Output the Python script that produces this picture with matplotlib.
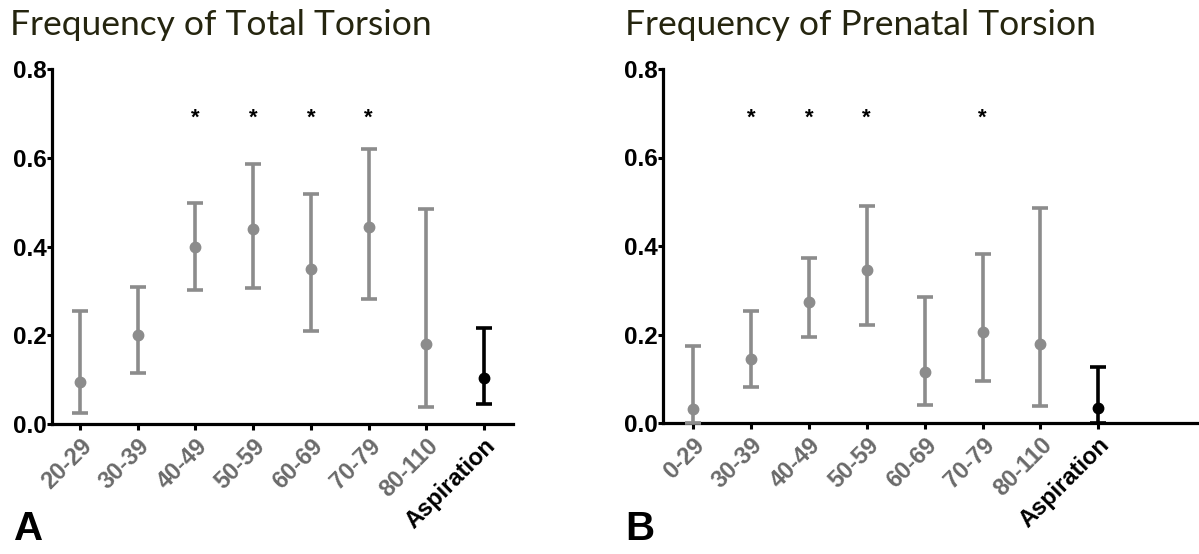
import numpy as np
import matplotlib
matplotlib.use("Agg")
import matplotlib.pyplot as plt

plt.rcParams["font.family"] = ["Liberation Sans", "DejaVu Sans"]

# ---------------- data ----------------
cats_a = ["20-29", "30-39", "40-49", "50-59", "60-69", "70-79", "80-110", "Aspiration"]
mean_a = [0.094, 0.201, 0.398, 0.439, 0.349, 0.443, 0.180, 0.104]
low_a = [0.024, 0.116, 0.303, 0.306, 0.210, 0.281, 0.038, 0.045]
high_a = [0.255, 0.309, 0.497, 0.585, 0.518, 0.620, 0.485, 0.217]
star_a = [False, False, True, True, True, True, False, False]

cats_b = ["0-29", "30-39", "40-49", "50-59", "60-69", "70-79", "80-110", "Aspiration"]
mean_b = [0.032, 0.145, 0.273, 0.345, 0.115, 0.205, 0.179, 0.034]
low_b = [0.000, 0.081, 0.194, 0.221, 0.040, 0.094, 0.039, 0.000]
high_b = [0.175, 0.252, 0.373, 0.491, 0.284, 0.382, 0.485, 0.126]
star_b = [False, True, True, True, False, True, False, False]

star_y = 0.70
GREY = "#8c8c8c"
TXT_GREY = "#6a6a6a"
W, H = 1199, 554

fig = plt.figure(figsize=(W / 100, H / 100), dpi=100)


def panel(rect, xlim, cats, mean, low, high, stars, title, title_x, letter):
    ax = fig.add_axes(rect)
    x = np.arange(len(cats))
    for i in range(len(cats)):
        c = "black" if cats[i] == "Aspiration" else GREY
        ax.errorbar(x[i], mean[i], yerr=[[mean[i] - low[i]], [high[i] - mean[i]]],
                    fmt="o", color=c, ecolor=c, elinewidth=2.6, capsize=5.5, capthick=2.6,
                    markersize=7.5, clip_on=False, zorder=3)
        if stars[i]:
            ax.text(x[i], star_y - 0.012, "*", ha="center", va="center", fontsize=16,
                    fontweight="bold", color="black")
    ax.set_xlim(*xlim)
    ax.set_ylim(0, 0.8)
    ax.set_yticks([0, 0.2, 0.4, 0.6, 0.8])
    ax.set_yticklabels(["0.0", "0.2", "0.4", "0.6", "0.8"], fontsize=17.5, fontweight="bold")
    ax.set_xticks(x)
    ax.set_xticklabels(cats, rotation=45, ha="right", rotation_mode="anchor",
                       fontsize=17, fontweight="bold")
    for lab in ax.get_xticklabels():
        lab.set_color("black" if lab.get_text() == "Aspiration" else TXT_GREY)
    for s in ["top", "right"]:
        ax.spines[s].set_visible(False)
    for s in ["left", "bottom"]:
        ax.spines[s].set_linewidth(2.3)
    ax.tick_params(axis="x", length=4.5, width=2.2, pad=3)
    ax.tick_params(axis="y", length=3.5, width=2.2, pad=0.5)
    fig.text(title_x, 1 - 25 / H, title, fontsize=25.5, family=["Lato", "DejaVu Sans"],
             color="#25250f", ha="left", va="center")
    fig.text(rect[0] - 38 / W, 1 - 529 / H, letter, fontsize=29, fontweight="bold",
             ha="left", va="center")
    return ax


panel([52 / W, 1 - 424 / H, (513 - 52) / W, 355 / H], (-0.485, 7.5),
      cats_a, mean_a, low_a, high_a, star_a, "Frequency of Total Torsion", 10 / W, "A")
panel([663 / W, 1 - 423 / H, (1199 - 663) / W, 354 / H], (-0.52, 8.74),
      cats_b, mean_b, low_b, high_b, star_b, "Frequency of Prenatal Torsion", 625 / W, "B")

fig.savefig("out.png", dpi=100)
